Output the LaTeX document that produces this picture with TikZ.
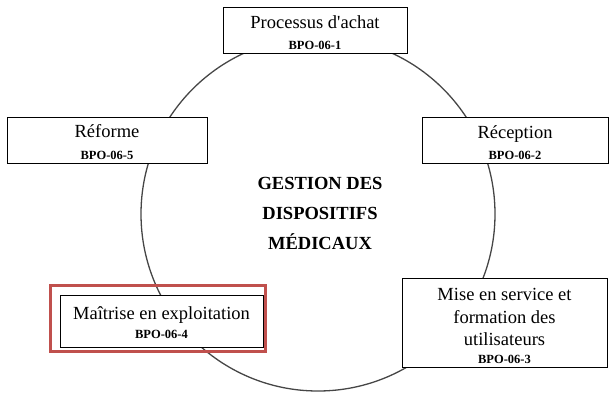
\documentclass[tikz,border=0pt]{standalone}
\usepackage{fontspec}
\setmainfont{Liberation Serif}
\definecolor{ringgray}{RGB}{70,70,70}
\definecolor{framered}{RGB}{192,80,77}
\newcommand{\bpo}[1]{{\fontsize{12.5}{13}\selectfont\bfseries #1}}
\begin{document}
\begin{tikzpicture}[x=1pt,y=-1pt,
  procbox/.style={draw=black, line width=0.9pt, fill=white, inner sep=0pt},
  proctext/.style={align=center, inner sep=0pt, font=\fontsize{18.5}{21.5}\selectfont},
  hilite/.style={draw=framered, line width=3pt, inner sep=0pt},
  ring/.style={draw=ringgray, line width=1.3pt},
  title/.style={align=center, font=\fontsize{18.5}{30}\selectfont\bfseries}]
  \useasboundingbox (0,0) rectangle (612,394);
  % process ring
  \coordinate (c) at (318,214);
  \draw[ring] (c) circle[radius=177];
  % highlight frame behind the controlled step
  \node[hilite, minimum width=215, minimum height=66] (frame) at (157.5,318) {};
  % process step boxes
  \node[procbox, minimum width=184, minimum height=46] (achat) at (315,30) {};
  \node[procbox, minimum width=186, minimum height=46] (reception) at (515,140) {};
  \node[procbox, minimum width=205, minimum height=89] (service) at (504.5,322.5) {};
  \node[procbox, minimum width=203, minimum height=52] (maitrise) at (161.5,321) {};
  \node[procbox, minimum width=200, minimum height=46] (reforme) at (107,140) {};
  % step names and references
  \node[proctext] (achat-t) at ([yshift=-2.5pt]achat.center)
    {Processus d\textquotesingle achat\\[0pt]\bpo{BPO-06-1}};
  \node[proctext] (reception-t) at ([yshift=-2.5pt]reception.center)
    {Réception\\[0pt]\bpo{BPO-06-2}};
  \node[proctext, font=\fontsize{18.5}{22.5}\selectfont] (service-t)
    at ([yshift=-3.5pt]service.center)
    {Mise en service et\\formation des\\utilisateurs\\[-5pt]\bpo{BPO-06-3}};
  \node[proctext] (maitrise-t) at ([yshift=-1.5pt]maitrise.center)
    {Maîtrise en exploitation\\[-2pt]\bpo{BPO-06-4}};
  \node[proctext] (reforme-t) at ([yshift=-2pt]reforme.center)
    {Réforme\\[0pt]\bpo{BPO-06-5}};
  % central label
  \node[title] (gestion) at (320,213) {GESTION DES\\DISPOSITIFS\\MÉDICAUX};
\end{tikzpicture}
\end{document}
